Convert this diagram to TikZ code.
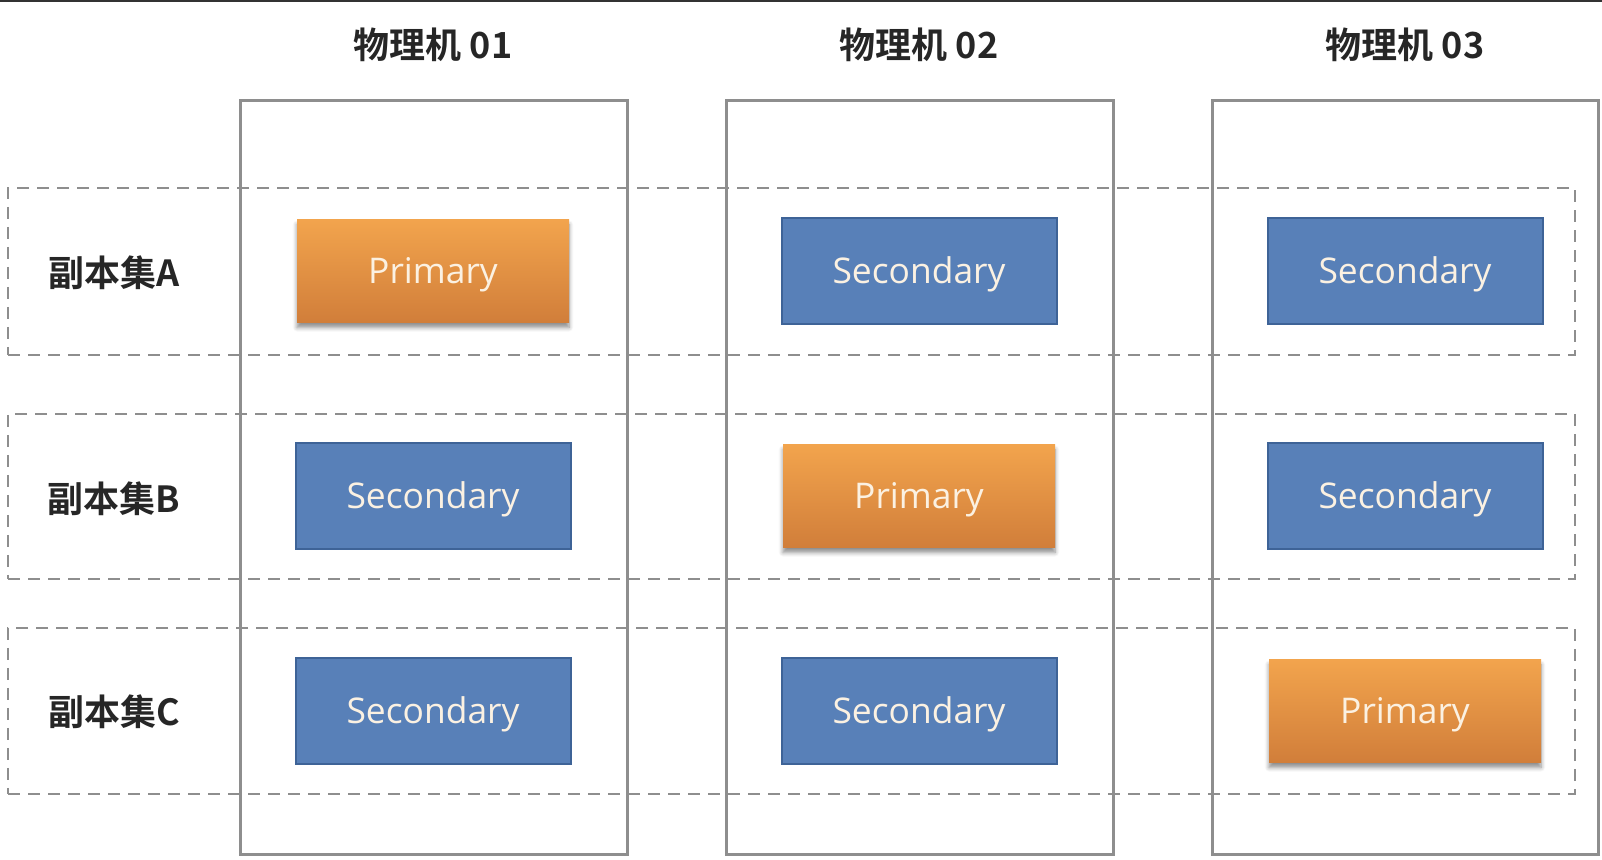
\documentclass[tikz,border=0pt]{standalone}
\usepackage{fontspec}
\setmainfont{Open Sans}
\newfontfamily\cjk{Noto Sans CJK SC}[BoldFont={Noto Sans CJK SC Bold}]
\usetikzlibrary{shadows.blur}
\definecolor{secfill}{HTML}{5880B8}
\definecolor{secdraw}{HTML}{3E6397}
\definecolor{pritop}{HTML}{F2A44D}
\definecolor{pribot}{HTML}{D17E3A}
\definecolor{txtc}{HTML}{FBF1E2}
\definecolor{linec}{HTML}{8E8E8E}
\tikzset{
  boxtext/.style={text=txtc, font=\fontsize{17.7}{20}\selectfont, inner sep=0pt,
    text height=12.6pt, text depth=0pt},
  secbox/.style={boxtext, rectangle, fill=secfill, draw=secdraw, line width=1pt,
    minimum width=137.5pt, minimum height=53pt},
  pribox/.style={boxtext, rectangle, top color=pritop, bottom color=pribot, draw=none,
    minimum width=136pt, minimum height=51.5pt,
    blur shadow={shadow xshift=0pt, shadow yshift=-2.5pt, shadow blur steps=6, shadow opacity=45}},
  colbox/.style={rectangle, draw=linec, line width=1.5pt, inner sep=0pt,
    minimum width=193.5pt, minimum height=376.5pt},
  rowbox/.style={rectangle, draw=linec, line width=1.3pt, dash pattern=on 6pt off 4pt,
    inner sep=0pt, minimum width=783.5pt},
  title/.style={font=\cjk\bfseries\fontsize{18}{20}\selectfont, text=black!85},
  rowlabel/.style={font=\cjk\bfseries\fontsize{18}{20}\selectfont, text=black!85}
}
\begin{document}
\begin{tikzpicture}[x=0.5pt,y=-0.5pt]
\useasboundingbox (0,0) rectangle (1602,860);
\fill[black!80] (0,0) rectangle (1602,2);
% rows
\node[rowbox, minimum height=83.5pt] (rA) at (791.5,271.5) {};
\node[rowbox, minimum height=82.5pt] (rB) at (791.5,496.5) {};
\node[rowbox, minimum height=83pt] (rC) at (791.5,711) {};
% columns
\node[colbox] (m1) at (433.5,477.5) {};
\node[colbox] (m2) at (919.5,477.5) {};
\node[colbox, minimum width=193pt] (m3) at (1405,477.5) {};
% titles
\node[title] (t1) at (433,45) {物理机 01};
\node[title] (t2) at (919,45) {物理机 02};
\node[title] (t3) at (1405,45) {物理机 03};
% row labels
\node[rowlabel] (lA) at (114,273) {副本集A};
\node[rowlabel] (lB) at (114,499) {副本集B};
\node[rowlabel] (lC) at (114,712) {副本集C};
% row A
\node[pribox] (a1) at (433,271) {Primary};
\node[secbox] (a2) at (919,271) {Secondary};
\node[secbox] (a3) at (1405,271) {Secondary};
% row B
\node[secbox] (b1) at (433,496) {Secondary};
\node[pribox] (b2) at (919,496) {Primary};
\node[secbox] (b3) at (1405,496) {Secondary};
% row C
\node[secbox] (c1) at (433,711) {Secondary};
\node[secbox] (c2) at (919,711) {Secondary};
\node[pribox] (c3) at (1405,711) {Primary};
\end{tikzpicture}
\end{document}
